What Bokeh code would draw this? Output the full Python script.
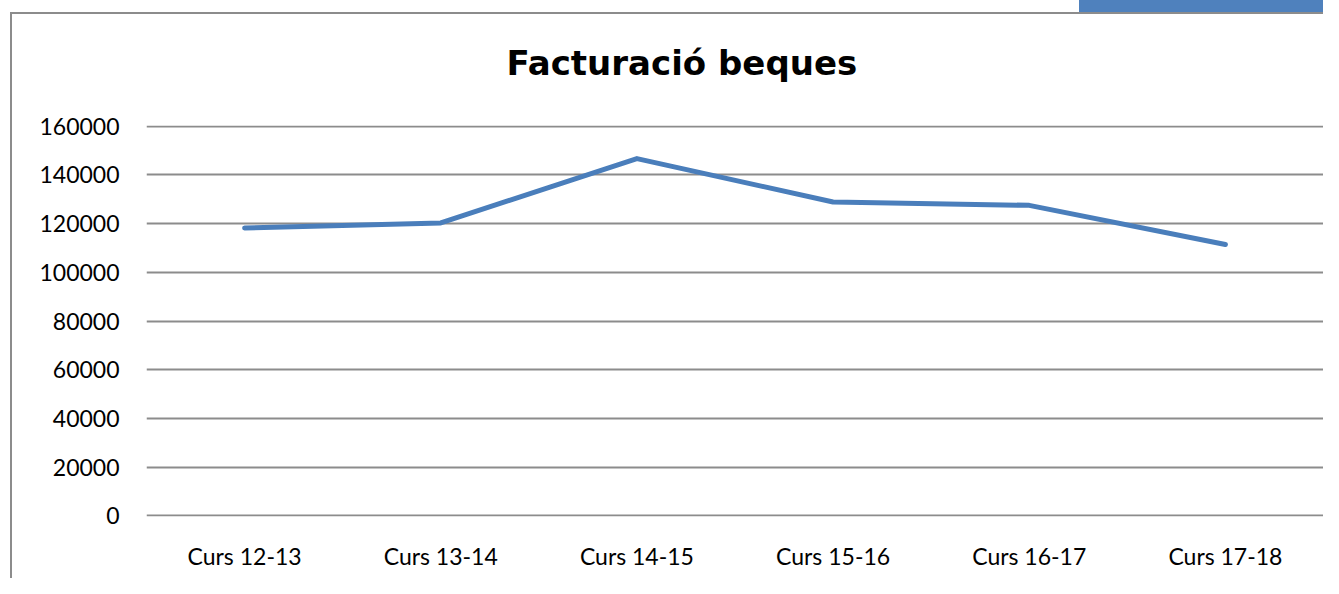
from bokeh.plotting import figure
from bokeh.models import FixedTicker, ColumnDataSource, NumeralTickFormatter
from bokeh.embed import file_html
from bokeh.resources import INLINE

categories = ["Curs 12-13", "Curs 13-14", "Curs 14-15", "Curs 15-16", "Curs 16-17", "Curs 17-18"]
values = [118200, 120300, 146700, 128900, 127500, 111400]
y_ticks = [0, 20000, 40000, 60000, 80000, 100000, 120000, 140000, 160000]
title_text = "Facturació beques"

source = ColumnDataSource(dict(cat=categories, val=values))

p = figure(x_range=categories, y_range=(-300, 160300), width=1323, height=578,
           title=title_text,
           output_backend="svg", toolbar_location=None,
           min_border_left=146, min_border_right=0, min_border_top=125, min_border_bottom=62)

# chart-area frame (left/top edges) and the accent bar, drawn as page background
p.styles = {
    "background-image": "linear-gradient(#8c8c8c,#8c8c8c), linear-gradient(#8c8c8c,#8c8c8c), linear-gradient(#4f81bd,#4f81bd)",
    "background-position": "10px 12px, 10px 12px, 1079px 0px",
    "background-size": "2px 100%, 100% 2px, 100% 12px",
    "background-repeat": "no-repeat",
}
p.border_fill_color = None
p.background_fill_color = None
p.outline_line_color = None

p.title.text_font = "DejaVu Sans"
p.title.text_font_style = "bold"
p.title.text_font_size = "34px"
p.title.text_color = "black"
p.title.align = "left"
p.title.offset = 360
p.title.vertical_align = "top"
p.title.standoff = 82

p.xgrid.visible = False
p.ygrid.grid_line_color = "#8c8c8c"
p.ygrid.grid_line_width = 2
p.yaxis.ticker = FixedTicker(ticks=y_ticks)
p.yaxis.formatter = NumeralTickFormatter(format="0")

for ax in (p.xaxis[0], p.yaxis[0]):
    ax.axis_line_color = None
    ax.major_tick_line_color = None
    ax.minor_tick_line_color = None
    ax.major_tick_out = 0
    ax.major_tick_in = 0
    ax.major_label_text_font = "Lato"
    ax.major_label_text_font_size = "23px"
    ax.major_label_text_color = "black"
p.yaxis.major_label_standoff = 27
p.xaxis.major_label_standoff = 25

p.line(x="cat", y="val", source=source, line_color="#4a7ebb", line_width=5,
       line_cap="round", line_join="round")

open("out.html", "w").write(file_html(p, INLINE))
